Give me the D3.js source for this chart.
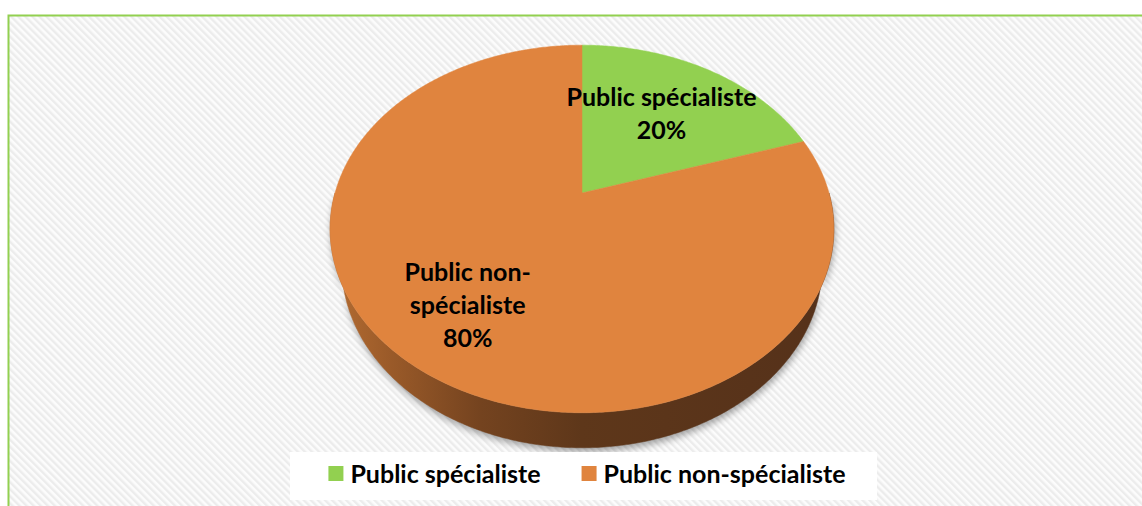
<!DOCTYPE html>
<html>
<head>
<meta charset="utf-8">
<script src="https://cdn.jsdelivr.net/npm/d3@7"></script>
<style>
  html, body { margin: 0; padding: 0; background: #ffffff; }
  svg { display: block; }
  text { font-family: Lato, "Open Sans", sans-serif; font-weight: 700; fill: #000; }
</style>
</head>
<body>
<svg id="chart" width="1142" height="506"></svg>
<script>
// Audience breakdown
const categories = ["Public spécialiste", "Public non-spécialiste"];
const shares = [20, 80];
const colors = ["#92d050", "#e0843e"];

const W = 1142, H = 506;
const svg = d3.select("#chart");
const defs = svg.append("defs");

// Diagonal hatch for the chart area
const hatch = defs.append("pattern")
  .attr("id", "hatch").attr("patternUnits", "userSpaceOnUse")
  .attr("width", 5).attr("height", 5)
  .attr("patternTransform", "rotate(-45)");
hatch.append("rect").attr("width", 5).attr("height", 5).attr("fill", "#fcfcfc");
hatch.append("rect").attr("width", 2.4).attr("height", 5).attr("fill", "#ececec");

// Side wall shading
const sideGrad = defs.append("linearGradient")
  .attr("id", "sideGrad").attr("gradientUnits", "userSpaceOnUse")
  .attr("x1", 330).attr("x2", 834).attr("y1", 0).attr("y2", 0);
[[0, "#b56d32"], [0.12, "#9a5a29"], [0.3, "#74431f"], [0.5, "#5e371a"], [1, "#55311a"]]
  .forEach(([o, c]) => sideGrad.append("stop").attr("offset", o).attr("stop-color", c));

// Soft drop shadow under the pie
const shadow = defs.append("filter").attr("id", "shadow")
  .attr("x", "-10%").attr("y", "-10%").attr("width", "120%").attr("height", "130%");
shadow.append("feGaussianBlur").attr("in", "SourceAlpha").attr("stdDeviation", 3.5);
shadow.append("feOffset").attr("dx", 1).attr("dy", 4).attr("result", "blur");
shadow.append("feComponentTransfer").append("feFuncA").attr("type", "linear").attr("slope", 0.35);

// Chart area with border on the top and left
svg.append("rect")
  .attr("x", 8.5).attr("y", 15.5).attr("width", W + 20).attr("height", H + 20)
  .attr("fill", "url(#hatch)").attr("stroke", "#92d050").attr("stroke-width", 2);

// Perspective projection of the tilted disc
const cx = 582, cy = 193;       // screen position of the disc centre
const K = 247;                   // projected radius at the centre depth
const tilt = 45.7 * Math.PI / 180;
const persp = 0.28;              // radius / camera distance
const thick = 0.232;             // disc thickness / radius
const sn = Math.sin(tilt), cs = Math.cos(tilt);

function proj(theta, rho, yy) {
  const X = rho * Math.sin(theta), Z = rho * Math.cos(theta);
  const v = Z * sn + yy * cs;
  const w = 1 + persp * (Z * cs - yy * sn);
  return [cx + K * X / w, cy - K * v / w];
}

function arcPoints(a0, a1, rho, yy) {
  const n = Math.max(2, Math.ceil(Math.abs(a1 - a0) / 0.01));
  return d3.range(n + 1).map(i => proj(a0 + (a1 - a0) * i / n, rho, yy));
}

const line = d3.line();
const pie = d3.pie().sort(null).value(d => d.value);
const arcs = pie(categories.map((c, i) => ({ name: c, value: shares[i], color: colors[i] })));
const total = d3.sum(shares);
const pct = d3.format(".0%");

const g = svg.append("g");

// Side wall (front half of the cylinder)
const sidePts = arcPoints(Math.PI / 2, 3 * Math.PI / 2, 1, 0)
  .concat(arcPoints(3 * Math.PI / 2, Math.PI / 2, 1, -thick));
g.append("path").attr("d", line(sidePts) + "Z")
  .attr("fill", "#000").attr("filter", "url(#shadow)");

// side colour follows the slice that owns each stretch of rim
arcs.forEach(a => {
  const lo = Math.max(a.startAngle, Math.PI / 2), hi = Math.min(a.endAngle, 3 * Math.PI / 2);
  if (hi <= lo) return;
  const pts = arcPoints(lo, hi, 1, 0).concat(arcPoints(hi, lo, 1, -thick));
  g.append("path").attr("d", line(pts) + "Z")
    .attr("fill", "url(#sideGrad)").attr("stroke", "url(#sideGrad)").attr("stroke-width", 0.5);
});

// Top faces
g.selectAll("path.slice").data(arcs).join("path")
  .attr("class", "slice")
  .attr("d", a => line([proj(0, 0, 0)].concat(arcPoints(a.startAngle, a.endAngle, 1, 0))) + "Z")
  .attr("fill", a => a.data.color)
  .attr("stroke", a => a.data.color).attr("stroke-width", 0.5);

// Data labels
const fontSize = 25, lineGap = 33;
const labelRho = [0.6, 0.7];
function wrapName(name) {
  const k = name.indexOf("-");
  return k > 0 ? [name.slice(0, k + 1), name.slice(k + 1)] : [name];
}
arcs.forEach((a, i) => {
  const mid = (a.startAngle + a.endAngle) / 2;
  const [lx, ly] = proj(mid, labelRho[i], 0);
  const lines = wrapName(a.data.name).concat([pct(a.data.value / total)]);
  const first = ly - (lines.length - 1) * lineGap / 2 + 8;
  const t = g.append("text").attr("text-anchor", "middle").style("font-size", fontSize + "px");
  lines.forEach((s, j) => t.append("tspan").attr("x", lx).attr("y", first + j * lineGap).text(s));
});

// Legend
const legend = svg.append("g");
legend.append("rect").attr("x", 290).attr("y", 452).attr("width", 587).attr("height", 48).attr("fill", "#ffffff");
const items = legend.selectAll("g.item").data(categories).join("g").attr("class", "item");
items.append("rect").attr("width", 15).attr("height", 15).attr("y", 466)
  .attr("fill", (d, i) => colors[i]);
items.append("text").attr("y", 483).style("font-size", fontSize + "px").text(d => d);
const widths = [];
items.select("text").each(function () { widths.push(this.getComputedTextLength()); });
const itemW = widths.map(w => 15 + 7 + w);
const totalW = d3.sum(itemW) + 41 * (itemW.length - 1);
let x0 = 587 - totalW / 2;
items.each(function (d, i) {
  const gi = d3.select(this);
  gi.select("rect").attr("x", x0);
  gi.select("text").attr("x", x0 + 22);
  x0 += itemW[i] + 41;
});
</script>
</body>
</html>
